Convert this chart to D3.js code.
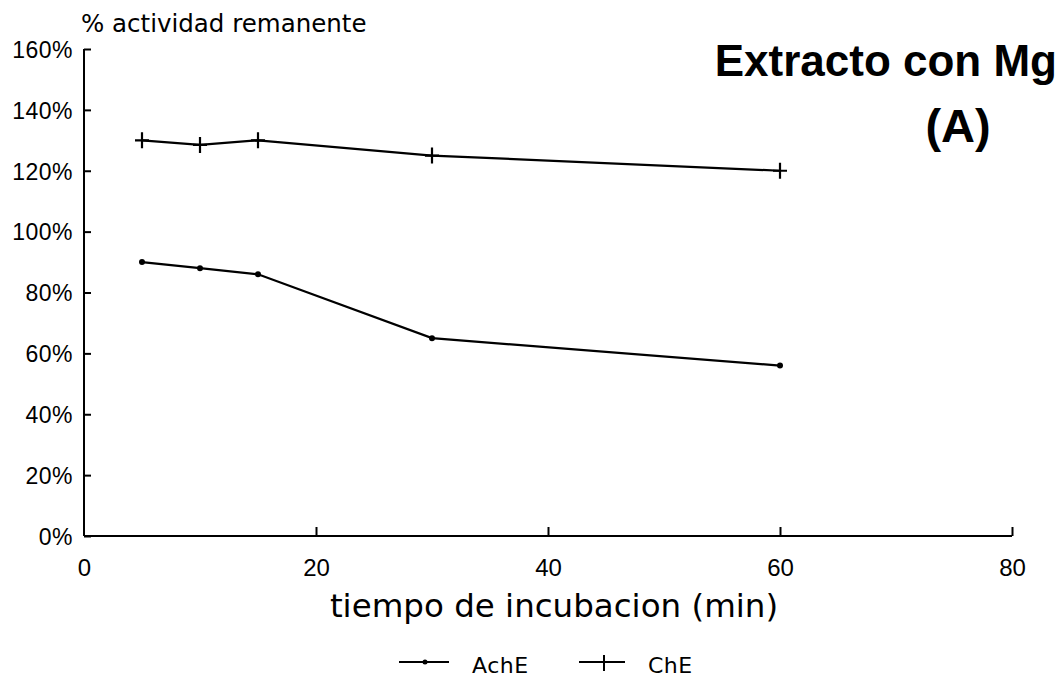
<!DOCTYPE html>
<html>
<head>
<meta charset="utf-8">
<script src="https://cdn.jsdelivr.net/npm/d3@7"></script>
<style>
  body { margin: 0; background: #fff; }
  svg { display: block; font-family: "DejaVu Sans", sans-serif; }
</style>
</head>
<body>
<div id="chart"></div>
<script>
// Datos
const tiempos = [5, 10, 15, 30, 60];
const achE = [90, 88, 86, 65, 56];
const chE = [130, 128.5, 130, 125, 120];
const xTicks = [0, 20, 40, 60, 80];
const yTicks = [0, 20, 40, 60, 80, 100, 120, 140, 160];

const fullWidth = 1062, fullHeight = 681;
const margin = { top: 49, left: 84 };
const width = 1012 - margin.left;
const height = 536 - margin.top;

const svg = d3.select("#chart").append("svg")
    .attr("width", fullWidth)
    .attr("height", fullHeight);

const g = svg.append("g")
    .attr("transform", `translate(${margin.left},${margin.top})`);

// Escalas
const x = d3.scaleLinear().domain([0, 80]).range([0, width]);
const y = d3.scaleLinear().domain([0, 160]).range([height, 0]);

// Eje Y (marcas hacia dentro)
const yAxis = g.append("g")
    .call(d3.axisRight(y).tickValues(yTicks).tickSize(7).tickFormat(""));
yAxis.select(".domain").attr("stroke-width", 2).attr("d", `M0,0V${height}`);
yAxis.selectAll("line").attr("stroke-width", 2);

yAxis.selectAll(".tick").append("text")
    .attr("x", -11)
    .attr("dy", "0.36em")
    .attr("text-anchor", "end")
    .style("font-size", "23px")
    .style("letter-spacing", "0.5px")
    .style("fill", "#000")
    .text(d => d + "%");

// Eje X (marcas hacia arriba)
const xAxis = g.append("g")
    .attr("transform", `translate(0,${height})`)
    .call(d3.axisTop(x).tickValues(xTicks).tickSize(9).tickFormat(""));
xAxis.select(".domain").attr("stroke-width", 2).attr("d", `M0,0H${width}`);
xAxis.selectAll("line").attr("stroke-width", 2);
xAxis.selectAll(".tick").filter(d => d === 0).select("line").remove();

xAxis.selectAll(".tick").append("text")
    .attr("y", 40)
    .attr("text-anchor", "middle")
    .style("font-size", "24px")
    .style("fill", "#000")
    .text(d => d);

// Títulos
svg.append("text")
    .attr("x", 81)
    .attr("y", 32)
    .style("font-size", "24.5px")
    .text("% actividad remanente");

svg.append("text")
    .attr("x", 554)
    .attr("y", 617)
    .attr("text-anchor", "middle")
    .style("font-size", "32.5px")
    .text("tiempo de incubacion (min)");

svg.append("text")
    .attr("x", 1057)
    .attr("y", 76)
    .attr("text-anchor", "end")
    .style("font-family", "'Liberation Sans', Arial, sans-serif")
    .style("font-size", "44px")
    .style("font-weight", "bold")
    .text("Extracto con Mg");

svg.append("text")
    .attr("x", 958)
    .attr("y", 142)
    .attr("text-anchor", "middle")
    .style("font-family", "'Liberation Sans', Arial, sans-serif")
    .style("font-size", "47px")
    .style("font-weight", "bold")
    .text("(A)");

// Líneas
const line = d3.line()
    .x(d => x(d[0]))
    .y(d => y(d[1]));

const achData = tiempos.map((t, i) => [t, achE[i]]);
const chData = tiempos.map((t, i) => [t, chE[i]]);

g.append("path")
    .datum(achData)
    .attr("fill", "none")
    .attr("stroke", "#000")
    .attr("stroke-width", 2.2)
    .attr("d", line);

g.append("path")
    .datum(chData)
    .attr("fill", "none")
    .attr("stroke", "#000")
    .attr("stroke-width", 2.2)
    .attr("d", line);

// Marcadores AchE (puntos)
g.selectAll(".dot")
    .data(achData)
    .enter()
    .append("circle")
    .attr("class", "dot")
    .attr("cx", d => x(d[0]))
    .attr("cy", d => y(d[1]))
    .attr("r", 3)
    .attr("fill", "#000");

// Marcadores ChE (cruces)
g.selectAll(".cross")
    .data(chData)
    .enter()
    .append("path")
    .attr("class", "cross")
    .attr("d", d => {
        const cx = x(d[0]), cy = y(d[1]);
        return `M${cx - 7},${cy}H${cx + 7}M${cx},${cy - 8}V${cy + 8}`;
    })
    .attr("stroke", "#000")
    .attr("stroke-width", 2.2);

// Leyenda
const legend = svg.append("g").attr("transform", "translate(0,662)");

legend.append("line")
    .attr("x1", 399).attr("x2", 449)
    .attr("y1", 0).attr("y2", 0)
    .attr("stroke", "#000").attr("stroke-width", 2);
legend.append("circle")
    .attr("cx", 425).attr("cy", 0).attr("r", 2.5);
legend.append("text")
    .attr("x", 472).attr("y", 11)
    .style("font-size", "22px")
    .style("letter-spacing", "0.5px")
    .text("AchE");

legend.append("line")
    .attr("x1", 579).attr("x2", 625)
    .attr("y1", 0).attr("y2", 0)
    .attr("stroke", "#000").attr("stroke-width", 2);
legend.append("path")
    .attr("d", "M604,-7V9")
    .attr("stroke", "#000").attr("stroke-width", 2);
legend.append("text")
    .attr("x", 648).attr("y", 11)
    .style("font-size", "22px")
    .style("letter-spacing", "0.5px")
    .text("ChE");
</script>
</body>
</html>
